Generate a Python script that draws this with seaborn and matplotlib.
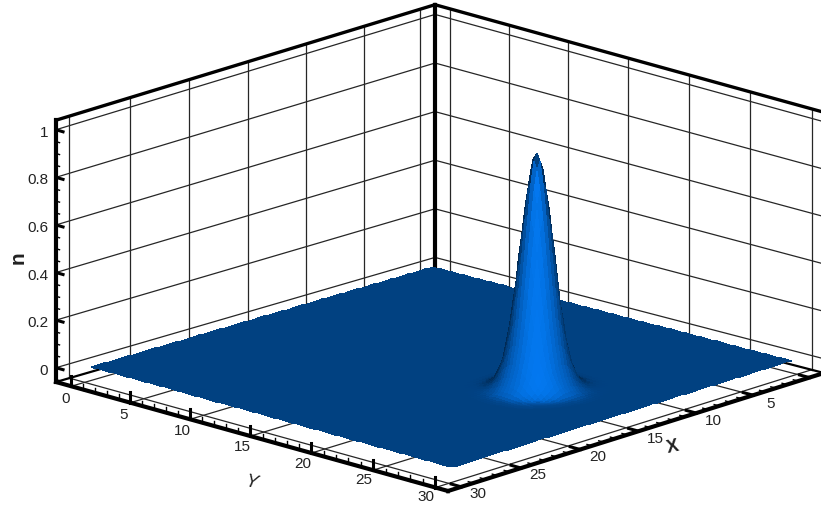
import numpy as np
import pandas as pd
import seaborn as sns
import matplotlib
matplotlib.use('Agg')
import matplotlib.pyplot as plt

# --- values ---
x_ticks = [5, 10, 15, 20, 25, 30]
y_ticks = [0, 5, 10, 15, 20, 25, 30]
n_ticks = [0, 0.2, 0.4, 0.6, 0.8, 1]
n_labels = ['0', '0.2', '0.4', '0.6', '0.8', '1']
x_grid = [0, 5, 10, 15, 20, 25, 30]
peak_x = 15.25
peak_y = 23.0
domain_x = [0.75, 30.0]
domain_y = [0.5, 30.25]
# bump height against distance from its centre, the flat part sits just above n=0
radius = [0, 0.25, 0.5, 0.75, 1.0, 1.25, 1.5, 1.75, 2.0, 2.25, 2.5, 2.75, 3.0, 3.25, 3.5, 4.0]
height = [1.01, 0.98, 0.89, 0.76, 0.615, 0.465, 0.33, 0.22, 0.14, 0.09, 0.056, 0.035, 0.023, 0.017, 0.014, 0.012]

# box limits
xlo, xhi = -1.3, 31.1
ylo, yhi = -1.3, 31.0
nlo, nhi = -0.06, 1.04

# camera: where the box corners land in the 821x505 picture
cam_data = [(xhi, ylo), (xhi, yhi), (xlo, yhi), (xlo, ylo)]
cam_px = [(56, 382), (448, 491), (824, 373), (435, 272)]
cam_k = [238, 232, 237, 243]  # px per unit of n at those corners

A = []
b = []
for (X, Y), (u, v) in zip(cam_data, cam_px):
    A.append([X, Y, 1, 0, 0, 0, -u * X, -u * Y])
    A.append([0, 0, 0, X, Y, 1, -v * X, -v * Y])
    b += [u, v]
h = np.linalg.solve(np.array(A, float), np.array(b, float))
k_coef = np.linalg.lstsq(np.array([[X, Y, 1] for X, Y in cam_data], float), np.array(cam_k, float), rcond=None)[0]


def project(X, Y, n):
    X = np.asarray(X, float)
    Y = np.asarray(Y, float)
    n = np.asarray(n, float)
    w = h[6] * X + h[7] * Y + 1
    u = (h[0] * X + h[1] * Y + h[2]) / w
    v = (h[3] * X + h[4] * Y + h[5]) / w
    k = k_coef[0] * X + k_coef[1] * Y + k_coef[2]
    return u, v - (n - nlo) * k


def draw_lines(ax, segs, color='#262626', lw=0.9):
    rows = []
    for i, (p, q) in enumerate(segs):
        u, v = project([p[0], q[0]], [p[1], q[1]], [p[2], q[2]])
        rows.append(pd.DataFrame({'u': u, 'v': v, 'line': i}))
    df = pd.concat(rows, ignore_index=True)
    sns.lineplot(data=df, x='u', y='v', units='line', estimator=None, sort=False,
                 color=color, linewidth=lw, legend=False, ax=ax, solid_capstyle='projecting')


sns.set_theme(style='white')
plt.rcParams['font.family'] = ['Liberation Sans', 'DejaVu Sans']

fig = plt.figure(figsize=(8.21, 5.05), dpi=100)
ax = fig.add_axes([0, 0, 1, 1])

# thin grid on the two walls and on the floor
grid = []
for X in x_grid:
    grid.append(((X, ylo, nlo), (X, ylo, nhi)))
    grid.append(((X, ylo, nlo), (X, yhi, nlo)))
for Y in y_ticks:
    grid.append(((xlo, Y, nlo), (xlo, Y, nhi)))
    grid.append(((xlo, Y, nlo), (xhi, Y, nlo)))
for n in n_ticks:
    grid.append(((xhi, ylo, n), (xlo, ylo, n)))
    grid.append(((xlo, ylo, n), (xlo, yhi, n)))
draw_lines(ax, grid)

# back edges of the floor, under the surface
draw_lines(ax, [((xhi, ylo, nlo), (xlo, ylo, nlo)), ((xlo, ylo, nlo), (xlo, yhi, nlo))], color='black', lw=1.6)

# surface, drawn far corner first so the near cells cover the far ones
gx, gy = np.meshgrid(np.arange(domain_x[0], domain_x[1] + 0.01, 0.25),
                     np.arange(domain_y[0], domain_y[1] + 0.01, 0.25))
gn = np.interp(np.hypot(gx - peak_x, gy - peak_y), radius, height)
dn_dy, dn_dx = np.gradient(gn, 0.25)
nz = 15.0  # height of one unit of n in floor units
norm = np.sqrt(1 + (nz * dn_dx) ** 2 + (nz * dn_dy) ** 2)
view = np.array([0.675, 0.675, 0.29])
light = (-nz * dn_dx * view[0] - nz * dn_dy * view[1] + view[2]) / norm
shade = 0.35 + 0.65 * np.clip(light, 0, 1)
shade = shade[:-1, :-1]
colors = np.dstack([0.01 * shade, 120 / 255 * shade, 240 / 255 * shade])
mu, mv = project(gx, gy, gn)
ax.pcolormesh(mu, mv, colors, shading='flat', antialiased=False, linewidth=0, zorder=3)

# heavy box edges
box = [((xhi, ylo, nlo), (xhi, yhi, nlo)), ((xhi, yhi, nlo), (xlo, yhi, nlo)),
       ((xhi, ylo, nlo), (xhi, ylo, nhi)), ((xlo, ylo, nlo), (xlo, ylo, nhi))]
top = [((xhi, ylo, nhi), (xlo, ylo, nhi)), ((xlo, ylo, nhi), (xlo, yhi, nhi)), ((xlo, yhi, nlo), (xlo, yhi, nhi))]
draw_lines(ax, box, color='black', lw=3.0)
draw_lines(ax, top, color='black', lw=2.4)

# tick marks
major = []
minor = []
for Y in y_ticks:
    major.append(((xhi, Y, nlo), (xhi, Y, nlo + 0.045)))
for Y in range(1, 31):
    if Y % 5:
        minor.append(((xhi, Y, nlo), (xhi, Y, nlo + 0.022)))
for X in x_ticks + [0]:
    major.append(((X, yhi, nlo), (X, yhi - 0.8, nlo)))
for X in range(1, 31):
    if X % 5:
        minor.append(((X, yhi, nlo), (X, yhi - 0.4, nlo)))
for n in n_ticks:
    major.append(((xhi, ylo, n), (xhi, ylo + 0.6, n)))
for n in np.arange(-0.05, 1.04, 0.05):
    if round(n * 20) % 4:
        minor.append(((xhi, ylo, n), (xhi, ylo + 0.3, n)))
draw_lines(ax, major, color='black', lw=2.2)
draw_lines(ax, minor, color='black', lw=1.0)

# labels
txt = dict(fontsize=11, color='#222222', ha='center', va='center')
for n, lab in zip(n_ticks, n_labels):
    u, v = project(xhi, ylo, n)
    ax.text(u - 8, v + 3, lab, **{**txt, 'ha': 'right'})
for Y in y_ticks:
    u, v = project(xhi, Y, nlo)
    ax.text(u - 6 - Y / 30 * 4, v + 13 - Y / 30 * 3.5, str(Y), **txt)
for X in x_ticks:
    u, v = project(X, yhi, nlo)
    ax.text(u + 17, v + 9 - X / 30 * 2, str(X), **txt)
ax.text(18, 258, 'n', fontsize=15, fontweight='bold', rotation=90, color='#222222', ha='center', va='center')
ax.text(251, 483, 'Y', fontsize=13, style='italic', rotation=-12, color='#222222', ha='center', va='center')
ax.text(673, 447, 'X', fontsize=13, fontweight='bold', rotation=12, color='#222222', ha='center', va='center')

ax.set_xlim(0, 821)
ax.set_ylim(505, 0)
ax.axis('off')
fig.savefig('out.png', dpi=100)
